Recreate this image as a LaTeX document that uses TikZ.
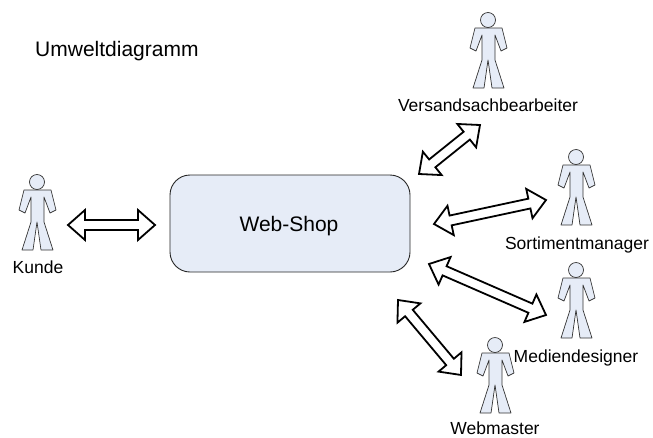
\documentclass[tikz,border=0pt]{standalone}
\usepackage{fontspec}
\setmainfont{Liberation Sans}
\usetikzlibrary{calc}
\definecolor{shopblue}{HTML}{E6ECF7}
\tikzset{
	actorlabel/.style={anchor=base,inner sep=0pt,font=\fontsize{17.5}{20}\selectfont},
	biglabel/.style={anchor=base,inner sep=0pt,font=\fontsize{21}{24}\selectfont},
	shopbox/.style={draw=black!85,line width=0.9pt,fill=shopblue,rounded corners=20pt},
	biarrow/.style={draw=black,fill=white,line width=1.8pt,miter limit=4,
		to path={let \p1=($(\tikztotarget)-(\tikztostart)$),\n1={atan2(\y1,\x1)},\n2={veclen(\x1,\y1)} in
			[shift={(\tikztostart)},rotate=\n1]
			(0,0) -- (17,15) -- (17,5) -- (\n2-17,5) -- (\n2-17,15) -- (\n2,0)
			-- (\n2-17,-15) -- (\n2-17,-5) -- (17,-5) -- (17,-15) -- cycle}},
	pics/actor/.style={code={
		\draw[draw=black!80,line width=0.7pt,fill=shopblue,line join=round]
			(-13,8) -- (14,8) -- (19,28) -- (13,31) -- (7,15) -- (7,40) -- (16,68) -- (4,68)
			-- (0,40) -- (-4,68) -- (-15,68) -- (-6,40) -- (-6,15) -- (-12,31) -- (-18,28) -- cycle;
		\draw[draw=black!80,line width=0.7pt,fill=shopblue] (0,0) circle (7.5);
	}}
}
\begin{document}
\begin{tikzpicture}[x=1pt,y=-1pt]
	\useasboundingbox (0,0) rectangle (653,437);
	% Titel und System
	\node[biglabel,anchor=base west] (titel) at (35,56) {Umweltdiagramm};
	\draw[shopbox] (170,175) rectangle (410,272);
	\node[biglabel] (shop) at (289,231) {Web-Shop};
	% Akteure
	\pic at (37,182) {actor};
	\pic at (488,20) {actor};
	\pic at (576,157) {actor};
	\pic at (576,270) {actor};
	\pic at (495,345) {actor};
	\node[actorlabel] (kunde) at (38,273) {Kunde};
	\node[actorlabel] (versand) at (488,111) {Versandsachbearbeiter};
	\node[actorlabel] (sortiment) at (577,249) {Sortimentmanager};
	\node[actorlabel] (medien) at (576,362) {Mediendesigner};
	\node[actorlabel] (webmaster) at (495,434) {Webmaster};
	% Pfeilenden
	\coordinate (k1) at (68,225);
	\coordinate (k2) at (155,225);
	\coordinate (v1) at (419,174);
	\coordinate (v2) at (480,125);
	\coordinate (s1) at (434,224);
	\coordinate (s2) at (546,200);
	\coordinate (m1) at (429,264);
	\coordinate (m2) at (546,315);
	\coordinate (w1) at (398,300);
	\coordinate (w2) at (461,375);
	% Pfeile
	\draw[biarrow] (k1) to (k2);
	\draw[biarrow] (v1) to (v2);
	\draw[biarrow] (s1) to (s2);
	\draw[biarrow] (m1) to (m2);
	\draw[biarrow] (w1) to (w2);
\end{tikzpicture}
\end{document}
